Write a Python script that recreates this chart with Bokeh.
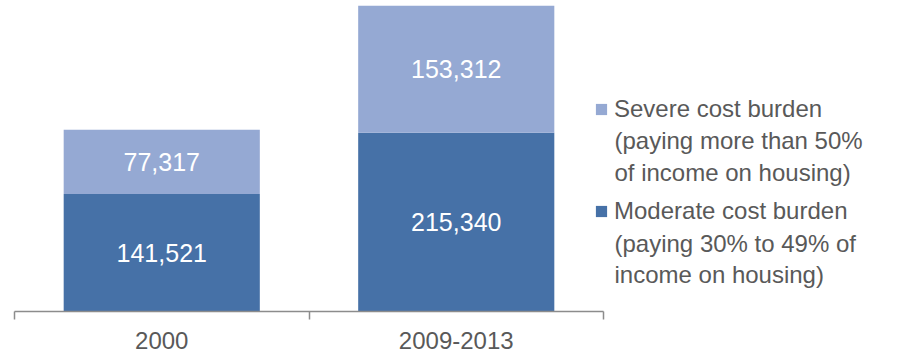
from bokeh.plotting import figure
from bokeh.models import (ColumnDataSource, Range1d, LinearAxis, FixedTicker, Legend,
                          LegendItem, Label)
from bokeh.embed import file_html
from bokeh.resources import INLINE
from bokeh.core.properties import value

# ---- data ----
categories = ["2000", "2009-2013"]
moderate = [141521, 215340]
severe = [77317, 153312]
severe_lines = ["Severe cost burden", "(paying more than 50%", "of income on housing)"]
moderate_lines = ["Moderate cost burden", "(paying 30% to 49% of", "income on housing)"]

# ---- styles ----
DARK = "#4671A7"
LIGHT = "#95A9D3"
TEXT = "#595959"
AXIS = "#8c8c8c"
FONT = "Liberation Sans"

LEFT = 14              # left border (px)
TOP = 5                # top border (px)
BOTTOM = 46            # room under the frame for the axis
FRAME_W = 886          # frame width
FRAME_H = 306          # frame height
AXIS_W = 589           # part of the frame used by the category axis

# legend layout (frame pixels, y measured up from the frame bottom)
LEG_X = 580
LINE_H = 31.5
ITEM_STEP = 102.5
FIRST_LINE_Y = FRAME_H + TOP - 108.5   # centre of the first legend line
LABEL_H = 32

n = len(categories)
centers = [i + 0.5 for i in range(n)]
edges = list(range(n + 1))
totals = [m + s for m, s in zip(moderate, severe)]
src = ColumnDataSource(dict(
    x=centers,
    moderate=moderate,
    severe=severe,
    mid_mod=[m / 2 for m in moderate],
    mid_sev=[m + s / 2 for m, s in zip(moderate, severe)],
    lab_mod=[f"{v:,}" for v in moderate],
    lab_sev=[f"{v:,}" for v in severe],
))

p = figure(x_range=Range1d(0, n * FRAME_W / AXIS_W), y_range=Range1d(0, max(totals)),
           frame_width=FRAME_W, frame_height=FRAME_H,
           min_border_left=LEFT, min_border_right=0, min_border_top=TOP,
           min_border_bottom=BOTTOM,
           output_backend="svg", toolbar_location=None,
           x_axis_location=None, y_axis_location=None)
p.outline_line_color = None
p.grid.visible = False
p.background_fill_color = "white"
p.border_fill_color = "white"

rs = p.vbar_stack(["moderate", "severe"], x="x", width=0.666, source=src,
                  color=[DARK, LIGHT], line_color=None)
r_mod, r_sev = rs

for ycol, tcol in (("mid_mod", "lab_mod"), ("mid_sev", "lab_sev")):
    p.text(x="x", y=ycol, text=tcol, source=src, text_align="center",
           text_baseline="middle", text_color="white",
           text_font=value(FONT), text_font_size="25px")

xaxis = LinearAxis(ticker=FixedTicker(ticks=centers, minor_ticks=edges),
                   bounds=(0, n),
                   major_label_overrides={c: lab for c, lab in zip(centers, categories)},
                   axis_line_color=AXIS, axis_line_width=1.5,
                   major_tick_line_color=None, major_tick_in=0, major_tick_out=0,
                   minor_tick_line_color=AXIS, minor_tick_line_width=1.5,
                   minor_tick_in=0, minor_tick_out=8,
                   major_label_text_font=FONT, major_label_text_font_size="24px",
                   major_label_text_color=TEXT, major_label_standoff=12)
p.add_layout(xaxis, "below")

# legend: swatches + first line of each entry
legend_bottom = FIRST_LINE_Y - ITEM_STEP - LABEL_H / 2
legend = Legend(items=[LegendItem(label=severe_lines[0], renderers=[r_sev]),
                       LegendItem(label=moderate_lines[0], renderers=[r_mod])],
                location=(LEG_X, round(legend_bottom)), orientation="vertical",
                glyph_width=14, glyph_height=14, label_standoff=6,
                label_height=LABEL_H,
                padding=0, spacing=round(ITEM_STEP - LABEL_H), margin=0,
                border_line_color=None, background_fill_alpha=0,
                label_text_font=FONT, label_text_font_size="24px",
                label_text_color=TEXT)
p.add_layout(legend, "center")

# remaining lines of each legend entry
for k, lines in enumerate((severe_lines, moderate_lines)):
    for j, line in enumerate(lines[1:], start=1):
        p.add_layout(Label(x=LEG_X + 14 + 6, y=FIRST_LINE_Y - k * ITEM_STEP - j * LINE_H,
                           x_units="screen", y_units="screen", text=line,
                           text_align="left", text_baseline="middle",
                           text_font=FONT, text_font_size="24px", text_color=TEXT))

open("out.html", "w").write(file_html(p, INLINE))
